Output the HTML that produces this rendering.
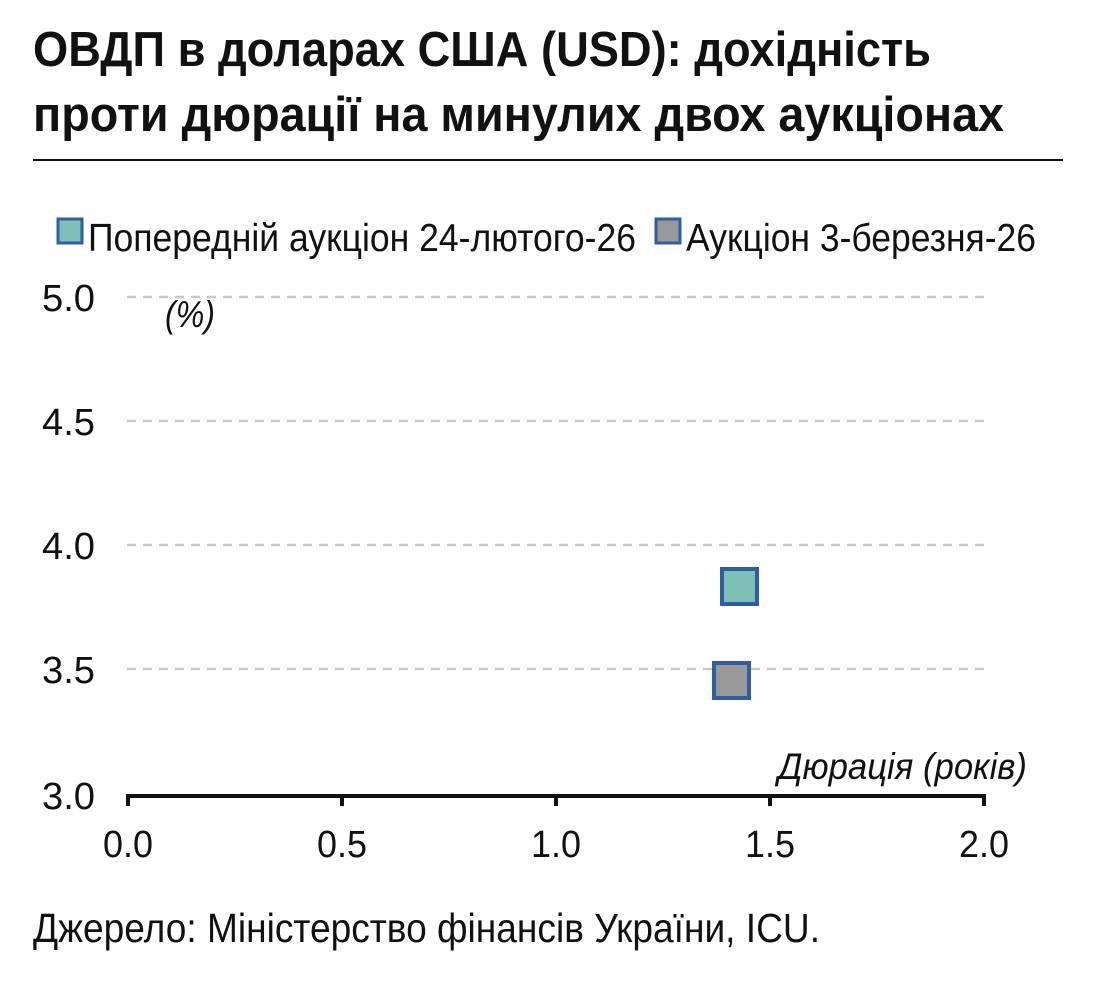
<!DOCTYPE html>
<html><head><meta charset="utf-8"><style>
html,body{margin:0;padding:0;background:#fff;}
svg{display:block;}
text{font-family:"Liberation Sans Narrow","Liberation Sans",sans-serif;fill:#111;}
</style></head><body>
<svg width="1104" height="997" viewBox="0 0 1104 997" xmlns="http://www.w3.org/2000/svg">
<text x="33" y="66" font-size="49" font-weight="bold" textLength="898" lengthAdjust="spacingAndGlyphs">ОВДП в доларах США (USD): дохідність</text>
<text x="33" y="131" font-size="49" font-weight="bold" textLength="971" lengthAdjust="spacingAndGlyphs">проти дюрації на минулих двох аукціонах</text>
<line x1="33" y1="160" x2="1063" y2="160" stroke="#111" stroke-width="2"/>
<rect x="58" y="219" width="24" height="24" fill="#7bbfb5" stroke="#2e5fa0" stroke-width="3"/>
<text x="88" y="251" font-size="39" textLength="548" lengthAdjust="spacingAndGlyphs">Попередній аукціон 24-лютого-26</text>
<rect x="656" y="219" width="24" height="24" fill="#999" stroke="#2e5fa0" stroke-width="3"/>
<text x="686" y="251" font-size="39" textLength="350" lengthAdjust="spacingAndGlyphs">Аукціон 3-березня-26</text>
<g stroke="#c8c8c8" stroke-width="2.5" stroke-dasharray="9,7">
<line x1="127" y1="297" x2="985" y2="297"/>
<line x1="127" y1="421" x2="985" y2="421"/>
<line x1="127" y1="545" x2="985" y2="545"/>
<line x1="127" y1="669" x2="985" y2="669"/>
</g>
<g font-size="38" text-anchor="end">
<text x="95" y="311" textLength="53" lengthAdjust="spacingAndGlyphs">5.0</text>
<text x="95" y="435" textLength="53" lengthAdjust="spacingAndGlyphs">4.5</text>
<text x="95" y="559" textLength="53" lengthAdjust="spacingAndGlyphs">4.0</text>
<text x="95" y="683" textLength="53" lengthAdjust="spacingAndGlyphs">3.5</text>
<text x="95" y="809" textLength="53" lengthAdjust="spacingAndGlyphs">3.0</text>
</g>
<text x="165" y="327" font-size="37" font-style="italic" textLength="50" lengthAdjust="spacingAndGlyphs">(%)</text>
<text x="778" y="779" font-size="37" font-style="italic" textLength="249" lengthAdjust="spacingAndGlyphs">Дюрація (років)</text>
<line x1="126" y1="796" x2="986" y2="796" stroke="#111" stroke-width="4"/>
<g stroke="#111" stroke-width="4">
<line x1="128" y1="796" x2="128" y2="806"/>
<line x1="342" y1="796" x2="342" y2="806"/>
<line x1="556" y1="796" x2="556" y2="806"/>
<line x1="770" y1="796" x2="770" y2="806"/>
<line x1="984" y1="796" x2="984" y2="806"/>
</g>
<g font-size="38" text-anchor="middle">
<text x="128" y="857" textLength="50" lengthAdjust="spacingAndGlyphs">0.0</text>
<text x="342" y="857" textLength="50" lengthAdjust="spacingAndGlyphs">0.5</text>
<text x="556" y="857" textLength="50" lengthAdjust="spacingAndGlyphs">1.0</text>
<text x="770" y="857" textLength="50" lengthAdjust="spacingAndGlyphs">1.5</text>
<text x="984" y="857" textLength="50" lengthAdjust="spacingAndGlyphs">2.0</text>
</g>
<rect x="722" y="569" width="35" height="35" fill="#7bbfb5" stroke="#2e5fa0" stroke-width="4"/>
<rect x="714" y="663" width="35" height="35" fill="#999" stroke="#2e5fa0" stroke-width="4"/>
<text x="33" y="942" font-size="41" textLength="787" lengthAdjust="spacingAndGlyphs">Джерело: Міністерство фінансів України, ICU.</text>
</svg>
</body></html>
